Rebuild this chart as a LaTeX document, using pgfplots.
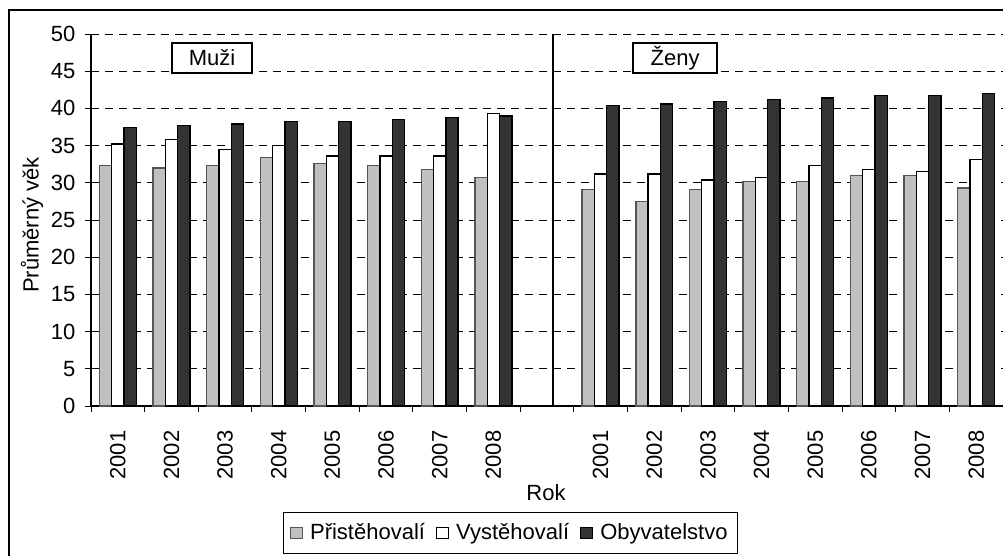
\documentclass[border=0pt]{standalone}
\usepackage{fontspec}
\setmainfont{Liberation Sans}
\usepackage{pgfplots}
\usepackage{pgfplotstable}
\pgfplotsset{compat=1.18}
\definecolor{barGray}{HTML}{C0C0C0}
\definecolor{barDark}{HTML}{333333}
\definecolor{edgeGray}{HTML}{555555}

\pgfplotstableread{
x  p      v      o
0  32.3   35.2   37.4
1  32.0   35.8   37.7
2  32.3   34.45  37.9
3  33.4   35.0   38.2
4  32.6   33.6   38.2
5  32.3   33.6   38.5
6  31.8   33.6   38.75
7  30.7   39.3   39.0
9  29.1   31.2   40.4
10 27.5   31.2   40.6
11 29.1   30.4   40.9
12 30.15  30.7   41.2
13 30.15  32.3   41.4
14 30.95  31.8   41.7
15 30.95  31.5   41.7
16 29.3   33.1   42.0
}\agedata

\begin{document}
\fontsize{11}{13}\selectfont
\begin{tikzpicture}
\draw[line width=0.7pt] (4.5pt,-278pt) -- (4.5pt,-5pt) -- (501.5pt,-5pt);
\begin{axis}[
  at={(45.5pt,-203pt)}, anchor=south west,
  scale only axis, width=456pt, height=186pt,
  xmin=-0.5, xmax=16.5, ymin=0, ymax=50,
  axis lines=left, axis line style={-, line width=0.6pt},
  ybar=0pt, bar width=6.15pt,
  ytick={0,5,...,50},
  xtick={0,1,2,3,4,5,6,7,9,10,11,12,13,14,15,16},
  xticklabels={2001,2002,2003,2004,2005,2006,2007,2008,2001,2002,2003,2004,2005,2006,2007,2008},
  minor xtick={-0.5,0.5,...,16.5},
  tick align=outside,
  major tick length=3pt, minor tick length=2.8pt,
  major x tick style={draw=none},
  tick style={black, line width=0.5pt},
  ymajorgrids,
  grid style={black, dash pattern=on 4pt off 3pt, line width=0.5pt},
  xticklabel style={rotate=90, anchor=east},
  xticklabel shift=5.5pt,
  yticklabel shift=1pt,
  tick label style={font=\fontsize{11}{13}\selectfont},
  /pgf/number format/assume math mode=true,
  xlabel={Rok},
  ylabel={Průměrný věk},
  label style={font=\fontsize{11}{13}\selectfont},
  xlabel style={at={(axis description cs:0.4989,-0.2339)}, anchor=center},
  ylabel style={at={(axis description cs:-0.0647,0.4866)}, anchor=center},
  legend columns=3,
  legend style={at={(0.4602,-0.3414)}, anchor=center, draw=black, line width=0.6pt,
    font=\fontsize{11}{13}\selectfont, inner xsep=3pt, inner ysep=3.5pt,
    /tikz/every even column/.append style={column sep=3.5pt},
    /tikz/every odd column/.append style={column sep=1.5pt}},
  legend image code/.code={\draw[#1, line width=0.6pt] (0pt,-2.6pt) rectangle (6pt,2.6pt);},
]
\addplot[fill=barGray, draw=edgeGray, line width=0.7pt] table[x=x, y=p] {\agedata};
\addplot[fill=white, draw=black, line width=0.7pt] table[x=x, y=v] {\agedata};
\addplot[fill=barDark, draw=black, line width=0.7pt] table[x=x, y=o] {\agedata};
\legend{Přistěhovalí, Vystěhovalí, Obyvatelstvo}
\draw[line width=0.6pt] (axis cs:8.11,0) -- (axis cs:8.11,50);
\node[draw, fill=white, line width=0.8pt, minimum width=40pt, minimum height=15pt, inner sep=0pt] at (axis cs:1.756,46.77) {Muži};
\node[draw, fill=white, line width=0.8pt, minimum width=42pt, minimum height=15pt, inner sep=0pt] at (axis cs:10.387,46.77) {Ženy};
\end{axis}
\pgfresetboundingbox
\path[use as bounding box] (0,0) rectangle (501.5pt,-278pt);
\end{tikzpicture}
\end{document}
